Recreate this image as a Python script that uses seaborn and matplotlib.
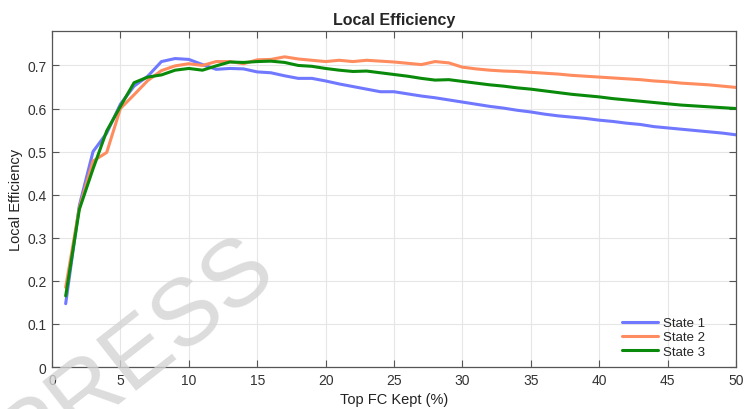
import numpy as np
import pandas as pd
import matplotlib
matplotlib.use("Agg")
import matplotlib.pyplot as plt
import seaborn as sns

top_fc = list(range(1, 51))
state1 = [0.147, 0.375, 0.500, 0.543, 0.610, 0.652, 0.675, 0.709, 0.716, 0.714,
          0.702, 0.691, 0.693, 0.692, 0.685, 0.683, 0.676, 0.670, 0.670, 0.664,
          0.657, 0.651, 0.645, 0.639, 0.639, 0.634, 0.629, 0.625, 0.620, 0.615,
          0.610, 0.605, 0.601, 0.596, 0.592, 0.587, 0.583, 0.580, 0.577, 0.573,
          0.570, 0.566, 0.563, 0.558, 0.555, 0.552, 0.549, 0.546, 0.543, 0.539]
state2 = [0.185, 0.370, 0.478, 0.498, 0.600, 0.632, 0.665, 0.688, 0.699, 0.704,
          0.700, 0.709, 0.709, 0.704, 0.713, 0.714, 0.720, 0.715, 0.712, 0.709,
          0.712, 0.709, 0.712, 0.710, 0.708, 0.705, 0.702, 0.709, 0.706, 0.696,
          0.692, 0.689, 0.687, 0.686, 0.684, 0.682, 0.680, 0.677, 0.675, 0.673,
          0.671, 0.669, 0.667, 0.664, 0.662, 0.659, 0.657, 0.655, 0.652, 0.649]
state3 = [0.165, 0.366, 0.460, 0.548, 0.605, 0.660, 0.673, 0.678, 0.689, 0.693,
          0.689, 0.699, 0.708, 0.707, 0.709, 0.710, 0.707, 0.700, 0.698, 0.693,
          0.689, 0.686, 0.687, 0.683, 0.679, 0.675, 0.670, 0.666, 0.667, 0.663,
          0.659, 0.655, 0.652, 0.648, 0.645, 0.641, 0.637, 0.633, 0.630, 0.627,
          0.623, 0.620, 0.617, 0.614, 0.611, 0.608, 0.606, 0.604, 0.602, 0.600]
labels = ["State 1", "State 2", "State 3"]
colors = ["#7078ff", "#ff8c5f", "#0a8a0a"]
xticks = [0, 5, 10, 15, 20, 25, 30, 35, 40, 45, 50]
yticks = [0, 0.1, 0.2, 0.3, 0.4, 0.5, 0.6, 0.7]

df = pd.concat([
    pd.DataFrame({"x": top_fc, "y": s, "State": lab})
    for s, lab in zip([state1, state2, state3], labels)
])

sns.set_style("white")
plt.rcParams['font.family'] = ['Liberation Sans', 'DejaVu Sans']

fig = plt.figure(figsize=(7.46, 4.10), dpi=100)
ax = fig.add_axes([0.0697, 0.1024, 0.9169, 0.8196])
sns.lineplot(data=df, x="x", y="y", hue="State", palette=colors, linewidth=2.2,
             ax=ax, legend=True)

ax.set_xlim(0, 50)
ax.set_ylim(0, 0.78)
ax.set_xticks(xticks)
ax.set_yticks(yticks)
ax.set_xticklabels([str(t) for t in xticks])
ax.set_yticklabels(["0" if t == 0 else f"{t:.1f}" for t in yticks])
ax.grid(True, color="#e6e6e6", linewidth=0.8)
ax.set_axisbelow(True)
ax.tick_params(direction="in", length=5, width=0.8, color="#555555",
               labelsize=10, labelcolor="#333333", top=True, right=True,
               bottom=True, left=True, pad=4)
for sp in ax.spines.values():
    sp.set_color("#555555")
    sp.set_linewidth(0.9)
ax.set_xlabel("Top FC Kept (%)", fontsize=10.5, color="#222222", labelpad=4)
ax.set_ylabel("Local Efficiency", fontsize=10.5, color="#222222", labelpad=3)
ax.set_title("Local Efficiency", fontsize=11.5, fontweight="bold", pad=5)

leg = ax.legend(loc="lower right", bbox_to_anchor=(0.962, 0.012), frameon=False,
                fontsize=9.5, handlelength=2.7, handletextpad=0.35,
                labelspacing=0.15, borderaxespad=0.0)

fig.text(0.183, 0.138, "PRESS", fontsize=68, color="#d4d4d4", alpha=0.8,
         rotation=38, ha="center", va="center", zorder=10)

fig.savefig("out.png", dpi=100)
